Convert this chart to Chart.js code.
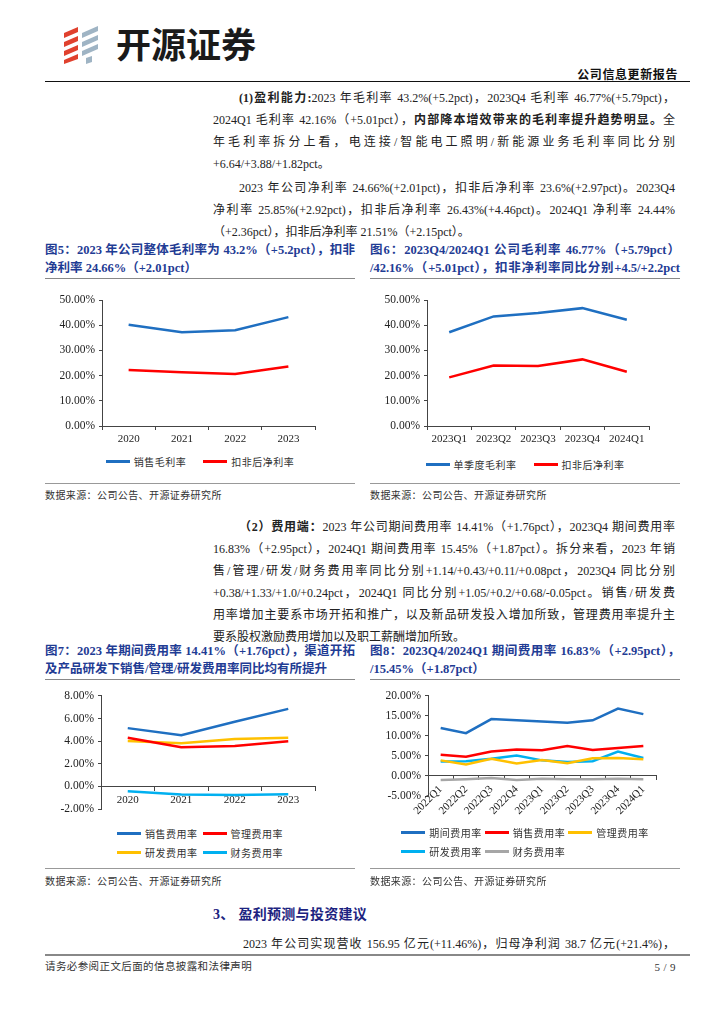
<!DOCTYPE html>
<html>
<head>
<meta charset="utf-8">
<script src="https://cdn.jsdelivr.net/npm/chart.js@4.4.1/dist/chart.umd.min.js"></script>
<style>
  body { margin: 0; background: #fff; }
  #page { position: relative; width: 724px; height: 1024px; overflow: hidden;
    font-family: "Liberation Serif", "Noto Sans CJK SC", serif; color: #222; }
  .abs { position: absolute; }
  .j, .nj { position: absolute; font-size: 12px; line-height: 16px; }
  .j { text-align: justify; text-align-last: justify; }
  .title { position: absolute; font-size: 12.5px; line-height: 16px; font-weight: bold; color: #1f3c94; width: 310px; }
  .title.j2 { text-align: justify; text-align-last: justify; }
  .rule { position: absolute; height: 0; }
  .src { position: absolute; font-size: 10px; line-height: 14px; letter-spacing: 0.4px; color: #333; }
  canvas { position: absolute; }
  .legend { position: absolute; width: 310px; display: flex; justify-content: center; }
  .legend .grid { display: inline-grid; row-gap: 3px; }
  .legend .li { display: flex; align-items: center; height: 16px; font-size: 10px; letter-spacing: 0.5px; color: #333; white-space: nowrap; }
  .legend .sw { display: inline-block; width: 24px; height: 3px; margin-right: 4px; }
</style>
</head>
<body>
<div id="page">
  <!-- header -->
  <svg class="abs" style="left:62px;top:24px" width="46" height="40" viewBox="0 0 46 40">
    <polygon points="2,9 16,3 16,8 2,14" fill="#e0412e"/>
    <polygon points="2,18 16,12 16,17 2,23" fill="#e0412e"/>
    <polygon points="2,27 16,21 16,26 2,32" fill="#e0412e"/>
    <polygon points="2,36 16,30 16,35 2,40" fill="#e0412e"/>
    <polygon points="20,9 36,2 36,7 20,14" fill="#9fb4c4"/>
    <polygon points="20,18 36,11 36,16 20,23" fill="#9fb4c4"/>
    <polygon points="20,27 36,20 36,25 20,32" fill="#9fb4c4"/>
    <polygon points="24,34 30,32 30,38 24,40" fill="#9fb4c4"/>
  </svg>
  <div class="abs" style="left:116px;top:22px;font-family:'Noto Sans CJK SC';font-weight:bold;font-size:35px;line-height:42px;color:#1a1a1a;">开源证券</div>
  <div class="abs" style="right:46px;top:67px;font-family:'Noto Sans CJK SC';font-weight:bold;font-size:12px;line-height:14px;letter-spacing:0.6px;color:#111;">公司信息更新报告</div>
  <div class="rule" style="left:45px;top:81px;width:645px;border-top:1.5px solid #111;"></div>

  <!-- paragraph 1 -->
  <div class="j" style="left:239px;width:436px;top:90px;"><b>(1)盈利能力:</b>2023 年毛利率 43.2%(+5.2pct)，2023Q4 毛利率 46.77%(+5.79pct)，</div>
  <div class="j" style="left:213px;width:462px;top:112px;">2024Q1 毛利率 42.16%（+5.01pct），<b>内部降本增效带来的毛利率提升趋势明显。</b>全</div>
  <div class="j" style="left:213px;width:462px;top:134px;">年毛利率拆分上看，电连接/智能电工照明/新能源业务毛利率同比分别</div>
  <div class="nj" style="left:213px;top:156px;">+6.64/+3.88/+1.82pct。</div>

  <div class="j" style="left:239px;width:436px;top:180px;">2023 年公司净利率 24.66%(+2.01pct)，扣非后净利率 23.6%(+2.97pct)。2023Q4</div>
  <div class="j" style="left:213px;width:462px;top:202px;">净利率 25.85%(+2.92pct)，扣非后净利率 26.43%(+4.46pct)。2024Q1 净利率 24.44%</div>
  <div class="nj" style="left:213px;top:224px;">（+2.36pct），扣非后净利率 21.51%（+2.15pct）。</div>

  <!-- figure 5 / 6 titles -->
  <div class="title j2" style="left:45px;top:242px;">图5：2023 年公司整体毛利率为 43.2%（+5.2pct），扣非</div>
  <div class="title" style="left:45px;top:260px;">净利率 24.66%（+2.01pct）</div>
  <div class="title j2" style="left:370px;top:242px;">图6：2023Q4/2024Q1 公司毛利率 46.77%（+5.79pct）</div>
  <div class="title j2" style="left:370px;top:260px;">/42.16%（+5.01pct），扣非净利率同比分别+4.5/+2.2pct</div>
  <div class="rule" style="left:45px;top:278px;width:310px;border-top:1px solid #888;"></div>
  <div class="rule" style="left:370px;top:278px;width:310px;border-top:1px solid #888;"></div>

  <canvas id="c5" width="310" height="160" style="left:45px;top:285px;"></canvas>
  <canvas id="c6" width="310" height="160" style="left:370px;top:285px;"></canvas>
  <div class="legend" id="l5" style="left:45px;top:453px;"><div class="grid"></div></div>
  <div class="legend" id="l6" style="left:370px;top:456px;"><div class="grid"></div></div>

  <div class="rule" style="left:45px;top:483px;width:310px;border-top:1.5px solid #999;"></div>
  <div class="rule" style="left:370px;top:483px;width:310px;border-top:1.5px solid #999;"></div>
  <div class="src" style="left:45px;top:489px;">数据来源：公司公告、开源证券研究所</div>
  <div class="src" style="left:370px;top:489px;">数据来源：公司公告、开源证券研究所</div>

  <!-- paragraph 3 -->
  <div class="j" style="left:239px;width:436px;top:519px;"><b>（2）费用端：</b>2023 年公司期间费用率 14.41%（+1.76pct），2023Q4 期间费用率</div>
  <div class="j" style="left:213px;width:462px;top:541px;">16.83%（+2.95pct），2024Q1 期间费用率 15.45%（+1.87pct）。拆分来看，2023 年销</div>
  <div class="j" style="left:213px;width:462px;top:563px;">售/管理/研发/财务费用率同比分别+1.14/+0.43/+0.11/+0.08pct，2023Q4 同比分别</div>
  <div class="j" style="left:213px;width:462px;top:585px;">+0.38/+1.33/+1.0/+0.24pct，2024Q1 同比分别+1.05/+0.2/+0.68/-0.05pct。销售/研发费</div>
  <div class="j" style="left:213px;width:462px;top:607px;">用率增加主要系市场开拓和推广，以及新品研发投入增加所致，管理费用率提升主</div>
  <div class="nj" style="left:213px;top:629px;">要系股权激励费用增加以及职工薪酬增加所致。</div>

  <!-- figure 7 / 8 titles -->
  <div class="title j2" style="left:45px;top:643px;">图7：2023 年期间费用率 14.41%（+1.76pct），渠道开拓</div>
  <div class="title" style="left:45px;top:661px;">及产品研发下销售/管理/研发费用率同比均有所提升</div>
  <div class="title j2" style="left:370px;top:643px;">图8：2023Q4/2024Q1 期间费用率 16.83%（+2.95pct），</div>
  <div class="title" style="left:370px;top:661px;">/15.45%（+1.87pct）</div>
  <div class="rule" style="left:45px;top:679px;width:310px;border-top:1px solid #888;"></div>
  <div class="rule" style="left:370px;top:679px;width:310px;border-top:1px solid #888;"></div>

  <canvas id="c7" width="310" height="140" style="left:45px;top:685px;"></canvas>
  <canvas id="c8" width="310" height="140" style="left:370px;top:685px;"></canvas>
  <div class="legend" id="l7" style="left:45px;top:825px;"><div class="grid"></div></div>
  <div class="legend" id="l8" style="left:370px;top:824px;"><div class="grid"></div></div>

  <div class="rule" style="left:45px;top:868px;width:310px;border-top:1.5px solid #999;"></div>
  <div class="rule" style="left:370px;top:868px;width:310px;border-top:1.5px solid #999;"></div>
  <div class="src" style="left:45px;top:875px;">数据来源：公司公告、开源证券研究所</div>
  <div class="src" style="left:370px;top:875px;">数据来源：公司公告、开源证券研究所</div>

  <!-- section 3 -->
  <div class="abs" style="left:213px;top:905px;font-family:'Liberation Serif','Noto Sans CJK SC';font-weight:bold;font-size:14px;line-height:20px;color:#1c2380;letter-spacing:0.3px;">3、 盈利预测与投资建议</div>
  <div class="nj" style="left:243px;width:432px;top:936px;text-align:justify;text-align-last:justify;">2023 年公司实现营收 156.95 亿元(+11.46%)，归母净利润 38.7 亿元(+21.4%)，</div>

  <!-- footer -->
  <div class="rule" style="left:45px;top:954px;width:645px;border-top:2px solid #888;"></div>
  <div class="src" style="left:45px;top:960px;font-size:10.5px;">请务必参阅正文后面的信息披露和法律声明</div>
  <div class="src" style="right:48px;top:960px;font-size:11px;font-family:'Liberation Serif';">5 / 9</div>
</div>

<script>
// 图5 年度
const years = ["2020", "2021", "2022", "2023"];
const grossMargin = [40.2, 37.2, 38.0, 43.2];
const netMarginDeducted = [22.2, 21.3, 20.6, 23.6];

// 图6 单季度
const quarters = ["2023Q1", "2023Q2", "2023Q3", "2023Q4", "2024Q1"];
const quarterGross = [37.2, 43.5, 44.8, 46.77, 42.16];
const quarterNetDeducted = [19.3, 24.0, 23.8, 26.43, 21.51];

// 图7 年度费用率
const salesRate = [5.15, 4.53, 5.71, 6.85];
const adminRate = [4.30, 3.47, 3.56, 3.99];
const rdRate = [4.01, 3.81, 4.19, 4.30];
const financeRate = [-0.43, -0.72, -0.77, -0.69];

// 图8 单季度费用率
const quarters9 = ["2022Q1", "2022Q2", "2022Q3", "2022Q4", "2023Q1", "2023Q2", "2023Q3", "2023Q4", "2024Q1"];
const periodRateQ = [12.0, 10.7, 14.2, 13.9, 13.6, 13.3, 13.9, 16.83, 15.45];
const salesRateQ = [5.3, 4.8, 6.1, 6.6, 6.4, 7.5, 6.5, 7.0, 7.5];
const adminRateQ = [3.9, 2.9, 4.3, 3.1, 4.0, 3.2, 4.4, 4.5, 4.2];
const rdRateQ = [3.6, 3.7, 4.3, 5.1, 3.9, 3.5, 3.7, 6.1, 4.5];
const financeRateQ = [-1.0, -0.8, -0.5, -1.0, -0.7, -0.8, -0.8, -0.7, -0.8];

const BLUE = "#1f6fc1", RED = "#ff0000", YELLOW = "#ffc000", CYAN = "#00b0f0", GRAY = "#a6a6a6";

Chart.defaults.font.family = "'Liberation Serif', serif";
Chart.defaults.color = "#222";

function ds(label, data, color) {
  return { label: label, data: data, borderColor: color, backgroundColor: color,
    borderWidth: 2.5, pointRadius: 0, tension: 0, fill: false };
}

function makeChart(id, labels, datasets, o) {
  return new Chart(document.getElementById(id), {
    type: "line",
    data: { labels: labels, datasets: datasets },
    options: {
      responsive: false,
      animation: false,
      layout: { padding: o.padding },
      plugins: { legend: { display: false }, tooltip: { enabled: false } },
      scales: {
        x: {
          offset: true,
          position: o.xAtZero ? { y: 0 } : "bottom",
          grid: { offset: true, drawOnChartArea: false, drawTicks: true, tickLength: 4, color: "#444" },
          border: { color: "#444", width: 1 },
          ticks: { font: { size: 11 }, color: "#222", padding: 3, autoSkip: false,
            maxRotation: o.rot || 0, minRotation: o.rot || 0 },
          afterFit: function (s) { if (o.xHeight) s.height = o.xHeight; }
        },
        y: {
          min: o.min, max: o.max,
          ticks: { stepSize: o.step, font: { size: 11.5 }, color: "#222", padding: 4,
            callback: function (v) { return v.toFixed(2) + "%"; } },
          grid: { drawOnChartArea: false, drawTicks: true, tickLength: 3, color: "#444" },
          border: { color: "#444", width: 1 },
          afterFit: function (s) { s.width = o.yWidth; }
        }
      }
    }
  });
}

function htmlLegend(chart, id, cols, gap) {
  const grid = document.querySelector("#" + id + " .grid");
  grid.style.gridTemplateColumns = "repeat(" + cols + ", auto)";
  grid.style.columnGap = gap + "px";
  chart.data.datasets.forEach(function (d) {
    const item = document.createElement("div");
    item.className = "li";
    item.innerHTML = '<span class="sw" style="background:' + d.borderColor + '"></span><span>' + d.label + "</span>";
    grid.appendChild(item);
  });
}

const c5 = makeChart("c5", years, [
  ds("销售毛利率", grossMargin, BLUE),
  ds("扣非后净利率", netMarginDeducted, RED)
], { min: 0, max: 50, step: 10, yWidth: 57, xHeight: 19, padding: { top: 15, right: 40, left: 0, bottom: 0 } });

const c6 = makeChart("c6", quarters, [
  ds("单季度毛利率", quarterGross, BLUE),
  ds("扣非后净利率", quarterNetDeducted, RED)
], { min: 0, max: 50, step: 10, yWidth: 57, xHeight: 19, padding: { top: 15, right: 31, left: 0, bottom: 0 } });

const c7 = makeChart("c7", years, [
  ds("销售费用率", salesRate, BLUE),
  ds("管理费用率", adminRate, RED),
  ds("研发费用率", rdRate, YELLOW),
  ds("财务费用率", financeRate, CYAN)
], { min: -2, max: 8, step: 2, yWidth: 56, xAtZero: true, padding: { top: 8, right: 40, left: 0, bottom: 16 } });

const c8 = makeChart("c8", quarters9, [
  ds("期间费用率", periodRateQ, BLUE),
  ds("销售费用率", salesRateQ, RED),
  ds("管理费用率", adminRateQ, YELLOW),
  ds("研发费用率", rdRateQ, CYAN),
  ds("财务费用率", financeRateQ, GRAY)
], { min: -5, max: 20, step: 5, yWidth: 58, xAtZero: true, rot: 45, padding: { top: 9, right: 24, left: 0, bottom: 29 } });

htmlLegend(c5, "l5", 2, 17);
htmlLegend(c6, "l6", 2, 17);
htmlLegend(c7, "l7", 2, 5);
htmlLegend(c8, "l8", 3, 3);
</script>
</body>
</html>
